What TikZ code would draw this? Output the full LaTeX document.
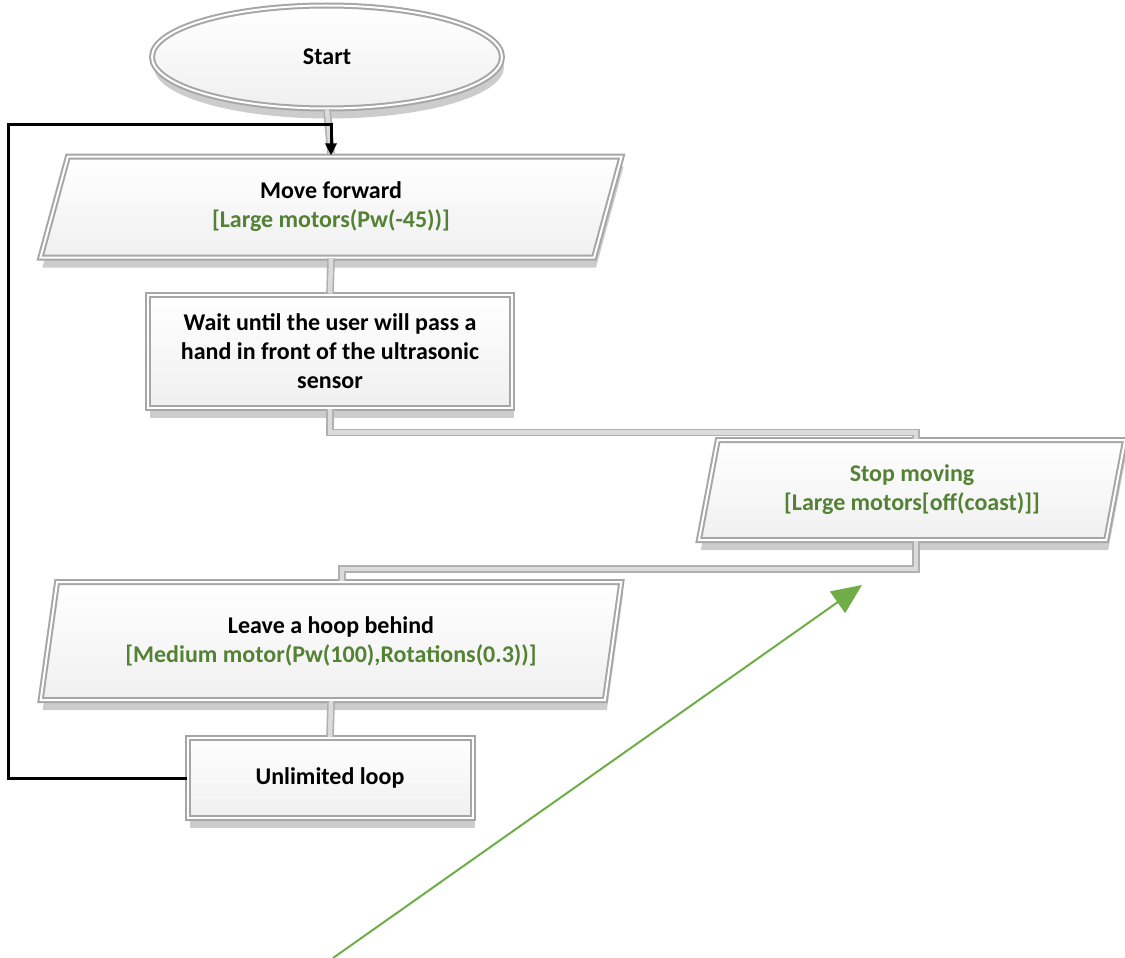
\documentclass[tikz,border=0pt]{standalone}
\usepackage{fontspec}
\setmainfont{Carlito}
\usetikzlibrary{shapes.geometric,shadows,arrows.meta,calc}
\definecolor{txtgreen}{RGB}{84,130,53}
\definecolor{argreen}{RGB}{112,173,71}
\begin{document}
\begin{tikzpicture}[x=1pt,y=-1pt,
  bevel/.style={draw=gray!70, line width=2pt, double=white, double distance=2pt,
    top color=white, bottom color=gray!12,
    drop shadow={shadow xshift=2pt, shadow yshift=-10pt, opacity=0.5, fill=gray!80},
    font=\fontsize{24}{29}\selectfont\bfseries, align=center, inner sep=0pt},
  pgram/.style={bevel, trapezium, trapezium left angle=76, trapezium right angle=104,
    trapezium stretches=true},
  boxn/.style={bevel, rectangle},
  pipe/.style={draw=gray!62, double=gray!28, double distance=4.5pt, line width=1.6pt},
  loopline/.style={line width=3pt, -{Triangle[length=12pt,width=11pt]}}]
\useasboundingbox (0,0) rectangle (1125,958);

\node[bevel, ellipse, minimum width=350pt, minimum height=103pt] (start) at (327,57) {Start};
\node[pgram, minimum width=582pt, minimum height=101pt] (mf) at (331,207)
  {Move forward\\{\color{txtgreen}[Large motors(Pw(-45))]}};
\node[boxn, minimum width=364pt, minimum height=113pt] (wait) at (330,351)
  {Wait until the user will pass a\\hand in front of the ultrasonic\\sensor};
\node[pgram, minimum width=427pt, minimum height=100pt] (stop) at (912,490)
  {{\color{txtgreen}Stop moving}\\{\color{txtgreen}[Large motors[off(coast)]]}};
\node[pgram, minimum width=582pt, minimum height=118pt] (leave) at (331,641)
  {Leave a hoop behind\\{\color{txtgreen}[Medium motor(Pw(100),Rotations(0.3))]}};
\node[boxn, minimum width=285pt, minimum height=80pt] (unl) at (330,778) {Unlimited loop};

\draw[pipe] (start.south) -- ($(mf.north)+(0,-2)$);
\draw[pipe] (mf.south) -- (wait.north);
\draw[pipe] (wait.south) -- ++(0,24) -| ($(stop.north)+(4,0)$);
\draw[pipe] ($(stop.south)+(4,0)$) -- ++(0,28) -| ($(leave.north)+(11,0)$);
\draw[pipe] (leave.south) -- (unl.north);

\draw[loopline] (unl.west) -- ++(-178,0) |- ($(mf.north)+(0,-31)$) -- (mf.north);

\coordinate (gA) at (333,958);
\coordinate (gB) at (862,585);
\draw[argreen, line width=2pt, -{Triangle[length=30pt,width=26pt]}] (gA) -- (gB);
\end{tikzpicture}
\end{document}
